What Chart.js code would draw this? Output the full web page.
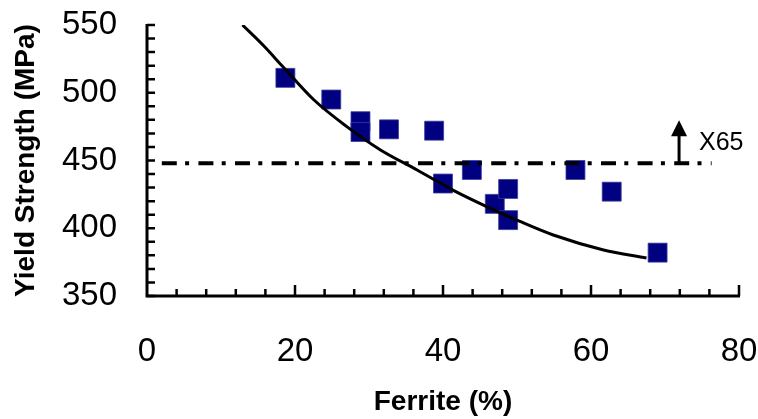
<!DOCTYPE html>
<html>
<head>
<meta charset="utf-8">
<script src="https://cdn.jsdelivr.net/npm/chart.js@4.4.1/dist/chart.umd.min.js"></script>
<style>
    html, body { margin: 0; padding: 0; background: #fff; }
    #wrap { width: 758px; height: 419px; }
</style>
</head>
<body>
<div id="wrap"><canvas id="chart"></canvas></div>
<script>
// measured samples
const ferrite = [18.7, 24.9, 28.85, 28.85, 32.7, 38.8, 40.0, 43.9, 47.0, 48.8, 48.8, 57.9, 62.8, 69.0];
const yieldStrength = [511, 495, 479, 471, 473, 472, 433, 443, 418, 429, 406, 443, 427, 382];

// fitted trend curve
const fitFerrite = [12.9, 15.7, 18.4, 22.5, 27.0, 31.5, 36.5, 41.4, 45.9, 50.4, 54.9, 61.7, 67.5];
const fitStrength = [550, 535, 519, 495, 475, 458, 443, 428, 416, 405, 395, 384, 378];

// X65 grade minimum
const x65Level = 448;
const x65Range = [2, 76.3];
const x65Arrow = { x: 71.9, top: 479 };
const x65Label = { x: 74.6, y: 463, text: 'X65' };

const xTicks = [0, 20, 40, 60, 80];
const yTicks = [350, 400, 450, 500, 550];

const FONT = "'Liberation Sans', Arial, Helvetica, sans-serif";

const toPoints = (xs, ys) => xs.map((x, i) => ({ x, y: ys[i] }));

// keep the plot box where the original has it
function fixBox(scale, size) {
    if (scale.isHorizontal()) {
        scale.height = size;
    } else {
        scale.width = size;
    }
    scale.paddingTop = 0;
    scale.paddingBottom = 0;
    scale.paddingLeft = 0;
    scale.paddingRight = 0;
}

// axes drawn by hand: ticks point inward like the original
const axesPlugin = {
    id: 'axes',
    afterDatasetsDraw(chart) {
        const { ctx, scales: { x, y } } = chart;
        const x0 = x.getPixelForValue(xTicks[0]);
        const x1 = x.getPixelForValue(xTicks[xTicks.length - 1]);
        const y0 = y.getPixelForValue(yTicks[0]);
        const y1 = y.getPixelForValue(yTicks[yTicks.length - 1]);

        ctx.save();
        ctx.strokeStyle = '#000';
        ctx.lineCap = 'butt';

        ctx.lineWidth = 2.5;
        ctx.beginPath();
        for (let v = yTicks[0]; v <= yTicks[yTicks.length - 1]; v += 10) {
            const py = y.getPixelForValue(v);
            ctx.moveTo(x0, py);
            ctx.lineTo(x0 + 8, py);
        }
        for (let v = xTicks[0] + 4; v <= xTicks[xTicks.length - 1]; v += 4) {
            const px = x.getPixelForValue(v);
            ctx.moveTo(px, y0);
            ctx.lineTo(px, y0 - (v % 20 === 0 ? 11 : 7));
        }
        ctx.stroke();

        ctx.lineWidth = 3;
        ctx.beginPath();
        ctx.moveTo(x0, y1 - 1);
        ctx.lineTo(x0, y0);
        ctx.lineTo(x1 + 1, y0);
        ctx.stroke();

        // X65 arrow + label
        const ax = x.getPixelForValue(x65Arrow.x);
        const ab = y.getPixelForValue(x65Level);
        const at = y.getPixelForValue(x65Arrow.top);
        ctx.lineWidth = 3;
        ctx.beginPath();
        ctx.moveTo(ax, ab);
        ctx.lineTo(ax, at + 12);
        ctx.stroke();
        ctx.fillStyle = '#000';
        ctx.beginPath();
        ctx.moveTo(ax, at - 1);
        ctx.lineTo(ax - 8, at + 15);
        ctx.lineTo(ax + 8, at + 15);
        ctx.closePath();
        ctx.fill();

        ctx.font = `25px ${FONT}`;
        ctx.textAlign = 'left';
        ctx.textBaseline = 'middle';
        ctx.fillText(x65Label.text, x.getPixelForValue(x65Label.x), y.getPixelForValue(x65Label.y));
        ctx.restore();
    },
};

new Chart(document.getElementById('chart'), {
    type: 'scatter',
    data: {
        datasets: [
            {
                label: 'Fit',
                data: toPoints(fitFerrite, fitStrength),
                showLine: true,
                borderColor: '#000',
                borderWidth: 3,
                pointRadius: 0,
                cubicInterpolationMode: 'monotone',
                order: 0,
            },
            {
                label: 'X65',
                data: toPoints(x65Range, [x65Level, x65Level]),
                showLine: true,
                borderColor: '#000',
                borderWidth: 4,
                borderDash: [15, 8.3, 4, 9.3],
                pointRadius: 0,
                order: 1,
            },
            {
                label: 'Yield strength',
                data: toPoints(ferrite, yieldStrength),
                backgroundColor: '#000080',
                borderColor: '#3a3aa0',
                borderWidth: 0.8,
                pointStyle: 'rect',
                pointRadius: 13.4,
                pointHoverRadius: 13.4,
                order: 2,
            },
        ],
    },
    options: {
        responsive: true,
        maintainAspectRatio: false,
        animation: false,
        events: [],
        layout: { padding: { top: 25, right: 19, left: 0, bottom: 0 } },
        plugins: { legend: { display: false }, tooltip: { enabled: false } },
        scales: {
            x: {
                type: 'linear',
                min: 0,
                max: 80,
                afterBuildTicks: (scale) => { scale.ticks = xTicks.map((value) => ({ value })); },
                afterFit: (scale) => fixBox(scale, 123),
                grid: { display: false, drawTicks: false },
                border: { display: false },
                ticks: { color: '#000', padding: 36, maxRotation: 0, font: { family: FONT, size: 33 } },
                title: {
                    display: true,
                    text: 'Ferrite (%)',
                    color: '#000',
                    padding: { top: 0, bottom: 0 },
                    font: { family: FONT, size: 28, weight: 'bold' },
                },
            },
            y: {
                type: 'linear',
                min: 350,
                max: 550,
                afterBuildTicks: (scale) => { scale.ticks = yTicks.map((value) => ({ value })); },
                afterFit: (scale) => fixBox(scale, 147),
                grid: { display: false, drawTicks: false },
                border: { display: false },
                ticks: { color: '#000', padding: 30, font: { family: FONT, size: 33 } },
                title: {
                    display: true,
                    text: 'Yield Strength (MPa)',
                    color: '#000',
                    padding: { top: 9, bottom: 0 },
                    font: { family: FONT, size: 28, weight: 'bold' },
                },
            },
        },
    },
    plugins: [axesPlugin],
});
</script>
</body>
</html>
